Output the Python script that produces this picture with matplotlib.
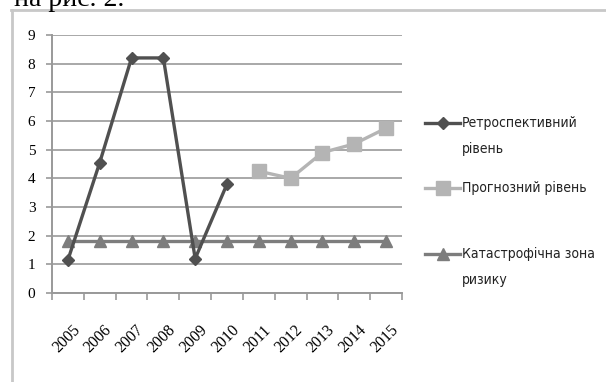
import numpy as np
import matplotlib.pyplot as plt
from matplotlib.lines import Line2D
from matplotlib.transforms import ScaledTranslation

years = ['2005', '2006', '2007', '2008', '2009', '2010',
         '2011', '2012', '2013', '2014', '2015']
retro = [1.15, 4.55, 8.2, 8.2, 1.2, 3.8]
forecast = [4.25, 4.0, 4.9, 5.2, 5.75]
danger = [1.8] * 11

c_retro = '#505050'
c_fore = '#b4b4b4'
c_danger = '#7d7d7d'

W, H = 606, 382
fig = plt.figure(figsize=(W / 100, H / 100), dpi=100)
ax = fig.add_axes([52 / W, 1 - 293 / H, 350 / W, 258 / H])

x = np.arange(len(years))
ax.plot(x, danger, color=c_danger, lw=2.4, marker='^', ms=8.5, zorder=3)
ax.plot(x[:6], retro, color=c_retro, lw=2.4, marker='D', ms=6, zorder=4)
ax.plot(x[6:], forecast, color=c_fore, lw=2.4, marker='s', ms=9.5, zorder=4)

ax.set_xlim(-0.5, 10.5)
ax.set_ylim(0, 9)
ax.set_yticks(range(10))
ax.set_yticklabels([str(i) for i in range(10)], family='Liberation Serif', fontsize=11)
ax.grid(axis='y', color='#a8a8a8', lw=1.4)
ax.set_axisbelow(True)

ax.set_xticks(x)
ax.set_xticklabels(years, rotation=45, ha='right', rotation_mode='anchor',
                   family='Liberation Serif', fontsize=11.5)
ax.tick_params(axis='x', which='major', length=0, pad=21)
for lbl in ax.get_xticklabels():
    lbl.set_transform(lbl.get_transform() + ScaledTranslation(0.04, 0, fig.dpi_scale_trans))
ax.set_xticks(np.arange(-0.5, 11, 1), minor=True)
ax.tick_params(axis='x', which='minor', length=5, color='#999999', width=1.2)
ax.tick_params(axis='y', length=4, color='#999999', width=1.2, pad=8)

for s in ['top', 'right']:
    ax.spines[s].set_visible(False)
for s in ['left', 'bottom']:
    ax.spines[s].set_color('#999999')
    ax.spines[s].set_linewidth(1.4)

# legend drawn by hand so the marker lines up with the first text line
entries = [(123, c_retro, 'D', 6, ['Ретроспективний', 'рівень']),
           (188, c_fore, 's', 9.5, ['Прогнозний рівень']),
           (254, c_danger, '^', 8.5, ['Катастрофічна зона', 'ризику'])]
for yy, col, mk, ms, lines in entries:
    fy = 1 - yy / H
    fig.add_artist(Line2D([425 / W, 460 / W], [fy, fy], color=col, lw=2.4))
    fig.add_artist(Line2D([442.5 / W], [fy], color=col, marker=mk, ms=ms))
    for i, t in enumerate(lines):
        fig.text(462 / W, 1 - (yy + 26 * i) / H, t, ha='left', va='center',
                 fontsize=10, fontstretch='condensed', color='#222222')

# frame of the embedded picture and clipped caption above
fig.add_artist(Line2D([11 / W, 1], [1 - 10 / H, 1 - 10 / H], color='#c8c8c8', lw=2))
fig.add_artist(Line2D([12 / W, 12 / W], [0, 1 - 10 / H], color='#c8c8c8', lw=2))
fig.text(14 / W, 1 - 5.5 / H, 'на рис. 2.', family='Liberation Serif',
         fontsize=20, va='baseline')

fig.savefig('out.png', dpi=100)
